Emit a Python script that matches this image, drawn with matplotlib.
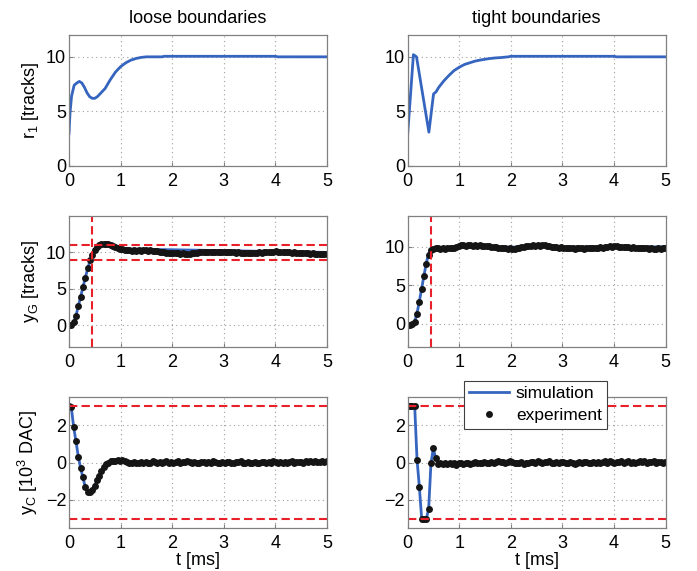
import numpy as np
import matplotlib
matplotlib.use('Agg')
import matplotlib.pyplot as plt

plt.rcParams['font.family'] = ['Liberation Sans', 'DejaVu Sans']
plt.rcParams['mathtext.default'] = 'regular'
plt.rcParams['font.size'] = 13

# ---- reference trajectory r1 (simulation) ----
t_r1_loose = [0, 0.02, 0.05, 0.1, 0.15, 0.2, 0.25, 0.3, 0.35, 0.4, 0.45, 0.5, 0.55, 0.6,
              0.7, 0.8, 0.9, 1.0, 1.1, 1.2, 1.3, 1.4, 1.5, 1.8, 1.85, 4.0, 4.05, 5.0]
r1_loose = [3.0, 4.9, 6.4, 7.4, 7.6, 7.75, 7.6, 7.2, 6.7, 6.35, 6.2, 6.2, 6.35, 6.6,
            7.1, 7.9, 8.6, 9.1, 9.45, 9.7, 9.85, 9.95, 10.0, 10.0, 10.05, 10.05, 10.0, 10.0]

t_r1_tight = [0, 0.11, 0.17, 0.41, 0.5, 0.55, 0.6, 0.7, 0.8, 0.9, 1.0, 1.1, 1.2, 1.3,
              1.4, 1.5, 1.6, 1.7, 1.8, 1.95, 2.0, 4.0, 4.05, 5.0]
r1_tight = [3.0, 10.2, 10.0, 3.1, 6.6, 6.8, 7.2, 7.8, 8.3, 8.75, 9.05, 9.3, 9.45, 9.6,
            9.7, 9.78, 9.85, 9.9, 9.93, 10.0, 10.05, 10.05, 10.0, 10.0]

# ---- experiment samples (Ts = 0.045 ms) ----
Ts = 0.045
yG_loose_exp = [
    0.0, 0.0, 0.4, 1.3, 2.6, 3.9, 5.2, 6.5, 7.8, 8.9,
    9.7, 10.3, 10.7, 11.0, 11.15, 11.2, 11.2, 11.1, 11.0, 10.85,
    10.7, 10.6, 10.5, 10.4, 10.35, 10.3, 10.3, 10.25, 10.3, 10.25,
    10.3, 10.25, 10.3, 10.3, 10.25, 10.3, 10.2, 10.2, 10.15, 10.1,
    10.0, 10.0, 9.95, 9.9, 9.9, 9.85, 9.9, 9.85, 9.8, 9.85,
    9.8, 9.75, 9.8, 9.9, 9.95, 9.95, 10.0, 10.0, 10.05, 10.0,
    10.1, 10.05, 10.1, 10.1, 10.05, 10.1, 10.1, 10.05, 10.0, 10.05,
    10.0, 10.0, 9.95, 10.0, 9.95, 9.9, 9.95, 9.9, 9.85, 9.95,
    9.9, 9.95, 10.0, 9.95, 10.0, 10.0, 10.05, 10.1, 10.1, 10.15,
    10.1, 10.1, 10.0, 10.05, 10.1, 10.0, 9.95, 10.0, 9.95, 9.9,
    9.95, 9.9, 9.85, 9.9, 9.8, 9.85, 9.8, 9.8, 9.75, 9.8, 9.8, 9.75]
yG_tight_exp = [
    -0.1, -0.1, 0.0, 0.2, 1.3, 2.8, 4.5, 6.2, 7.8, 9.0,
    9.6, 9.75, 9.8, 9.8, 9.75, 9.8, 9.7, 9.8, 9.85, 9.9,
    9.9, 10.0, 10.1, 10.2, 10.2, 10.15, 10.2, 10.2, 10.15, 10.2,
    10.15, 10.2, 10.1, 10.1, 10.05, 10.1, 10.0, 10.0, 9.95, 9.9,
    9.85, 9.8, 9.8, 9.75, 9.8, 9.7, 9.75, 9.8, 9.85, 9.95,
    10.0, 10.05, 10.1, 10.1, 10.2, 10.15, 10.2, 10.1, 10.2, 10.25,
    10.15, 10.1, 10.0, 9.95, 10.0, 9.9, 9.95, 9.9, 9.85, 9.85,
    9.8, 9.85, 9.75, 9.8, 9.8, 9.85, 9.75, 9.8, 9.85, 9.85,
    9.9, 9.9, 9.85, 9.95, 9.9, 10.0, 10.0, 10.05, 9.95, 10.1,
    10.05, 10.0, 10.0, 9.95, 10.0, 9.95, 9.9, 9.95, 9.9, 9.9,
    9.85, 9.9, 9.85, 9.8, 9.75, 9.8, 9.75, 9.75, 9.8, 9.75, 9.8, 9.8]
yC_loose_exp = [
    3.0, 2.95, 1.9, 1.13, 0.32, -0.3, -0.8, -1.3, -1.55, -1.6,
    -1.45, -1.25, -0.95, -0.7, -0.45, -0.25, -0.1, 0.0, 0.08, 0.1,
    0.08, 0.12, 0.1, 0.12, 0.08, 0.05, 0.0, -0.02, 0.02, 0.0,
    -0.05, 0.02, -0.03, 0.05, -0.05, 0.0, 0.08, 0.03, -0.02, 0.05,
    0.0, 0.05, 0.08, -0.03, 0.04, 0.0, 0.02, 0.06, 0.0, 0.03,
    0.05, 0.08, 0.02, -0.02, 0.03, 0.0, -0.04, 0.03, 0.05, -0.02,
    0.02, 0.0, 0.06, 0.02, -0.05, -0.02, 0.03, 0.0, 0.02, 0.05,
    0.0, -0.03, 0.05, 0.02, 0.08, 0.0, -0.02, 0.04, -0.05, 0.0,
    0.03, -0.02, 0.0, 0.05, 0.02, -0.03, 0.04, 0.0, 0.06, 0.02,
    -0.02, 0.03, 0.0, 0.05, -0.02, 0.02, 0.06, 0.0, 0.03, 0.02,
    0.05, 0.0, 0.08, 0.02, 0.06, 0.03, 0.1, 0.05, 0.02, 0.08, 0.05, 0.1]
yC_tight_exp = [
    3.0, 3.0, 3.0, 3.0, 0.15, -1.3, -3.0, -3.0, -3.0, -2.5,
    -0.05, 0.75, 0.25, -0.1, -0.05, -0.1, 0.0, -0.08, -0.02, -0.1,
    -0.05, -0.12, -0.05, 0.0, -0.08, -0.03, 0.0, -0.06, -0.02, 0.03,
    -0.03, 0.0, -0.05, 0.02, 0.0, -0.04, 0.03, 0.0, 0.05, 0.08,
    0.05, 0.02, 0.0, 0.05, 0.1, 0.05, -0.02, 0.0, -0.05, 0.02,
    -0.06, 0.0, -0.03, 0.02, 0.05, 0.0, 0.08, 0.03, -0.02, 0.05,
    0.02, 0.06, 0.0, -0.03, 0.04, 0.0, 0.05, 0.02, -0.04, 0.0,
    0.05, -0.02, -0.08, 0.0, 0.03, -0.05, 0.02, 0.04, 0.0, -0.03,
    0.03, 0.0, 0.05, -0.02, 0.02, 0.06, 0.0, 0.08, 0.03, 0.0,
    0.05, 0.02, 0.08, 0.0, 0.03, 0.06, -0.02, 0.05, 0.0, 0.03,
    0.06, 0.02, 0.08, 0.0, 0.05, 0.02, 0.06, -0.02, 0.03, 0.05, 0.0, 0.02]
t_exp = np.arange(len(yG_loose_exp)) * Ts

# ---- simulation (first 20 samples, then settled value at 5 ms) ----
t_sim = list(t_exp[:20]) + [5.0]
yG_loose_sim = [0.0, 0.0, 0.3, 1.3, 2.6, 3.9, 5.2, 6.5, 7.7, 8.8,
                9.7, 10.3, 10.7, 11.0, 11.1, 11.1, 11.0, 10.9, 10.7, 10.5, 10.0]
yG_tight_sim = [0.0, 0.0, 0.1, 0.3, 1.4, 2.9, 4.6, 6.3, 7.9, 9.1,
                9.7, 9.9, 9.9, 9.9, 9.9, 9.9, 9.9, 9.9, 9.9, 9.95, 10.0]
yC_loose_sim = [3.0, 2.95, 1.9, 1.13, 0.32, -0.3, -0.8, -1.3, -1.55, -1.6,
                -1.45, -1.25, -0.95, -0.7, -0.45, -0.25, -0.1, 0.0, 0.05, 0.05, 0.0]
yC_tight_sim = [3.0, 3.0, 3.0, 3.0, 0.15, -1.3, -3.0, -3.0, -3.0, -2.5,
                -0.05, 0.75, 0.25, -0.05, 0.0, 0.0, 0.0, 0.0, 0.0, 0.0, 0.0]

# boundaries
t_settle = 0.45
yG_band = [9.0, 11.0]
yC_limits = [-3.0, 3.0]

blue = '#3565be'
red = '#e8202a'
dot = '#151515'
dash = (0, (4, 2))

fig = plt.figure(figsize=(6.97, 5.71), dpi=100)
lefts = [0.099, 0.585]
bottoms = [0.7093, 0.3923, 0.0753]
w, h = 0.370, 0.2294
axs = [[fig.add_axes([l, b, w, h]) for l in lefts] for b in bottoms]


def style(ax, ylim, yticks):
    ax.set_xlim(0, 5)
    ax.set_ylim(*ylim)
    ax.set_xticks([0, 1, 2, 3, 4, 5])
    ax.set_yticks(yticks)
    ax.grid(True, linestyle=(0, (1, 3)), color='#a0a0a0', linewidth=0.8)
    for s in ax.spines.values():
        s.set_color('#808080')
        s.set_linewidth(0.9)
    ax.tick_params(direction='in', length=3, color='#808080', labelsize=13)
    ax.tick_params(axis='x', pad=5)
    ax.tick_params(axis='y', pad=2)


# row 1: r1
axs[0][0].plot(t_r1_loose, r1_loose, color=blue, lw=2)
axs[0][1].plot(t_r1_tight, r1_tight, color=blue, lw=2)
for ax in axs[0]:
    style(ax, (0, 12), [0, 5, 10])
axs[0][0].set_title('loose boundaries', fontsize=13, pad=9)
axs[0][1].set_title('tight boundaries', fontsize=13, pad=9)
axs[0][0].set_ylabel('r$_1$ [tracks]', fontsize=13)

# row 2: yG
ax = axs[1][0]
ax.plot(t_sim, yG_loose_sim, color=blue, lw=2)
ax.plot(t_exp, yG_loose_exp, 'o', color=dot, ms=5, mew=0)
ax.axvline(t_settle, color=red, lw=1.5, ls=dash)
for v in yG_band:
    ax.axhline(v, color=red, lw=1.5, ls=dash)
style(ax, (-3, 15), [0, 5, 10])
ax.set_ylabel('y$_G$ [tracks]', fontsize=13)

ax = axs[1][1]
ax.plot(t_sim, yG_tight_sim, color=blue, lw=2)
ax.plot(t_exp, yG_tight_exp, 'o', color=dot, ms=5, mew=0)
ax.axvline(t_settle, color=red, lw=1.5, ls=dash)
style(ax, (-3, 14), [0, 5, 10])

# row 3: yC
ax = axs[2][0]
ax.plot(t_sim, yC_loose_sim, color=blue, lw=2)
ax.plot(t_exp, yC_loose_exp, 'o', color=dot, ms=5, mew=0)
for v in yC_limits:
    ax.axhline(v, color=red, lw=1.5, ls=dash)
style(ax, (-3.5, 3.5), [-2, 0, 2])
ax.set_ylabel('y$_C$ [10$^3$ DAC]', fontsize=13)
ax.set_xlabel('t [ms]', fontsize=13, labelpad=0)

ax = axs[2][1]
ax.plot(t_sim, yC_tight_sim, color=blue, lw=2, label='simulation')
ax.plot(t_exp, yC_tight_exp, 'o', color=dot, ms=5, mew=0, label='experiment')
for v in yC_limits:
    ax.axhline(v, color=red, lw=1.5, ls=dash)
style(ax, (-3.5, 3.5), [-2, 0, 2])
ax.set_xlabel('t [ms]', fontsize=13, labelpad=0)
leg = ax.legend(loc='upper left', bbox_to_anchor=(0.217, 1.122), borderaxespad=0,
                fancybox=False, framealpha=1, edgecolor='#404040', fontsize=12.5,
                handlelength=2.3, handletextpad=0.4, borderpad=0.3, labelspacing=0.4)
leg.get_frame().set_linewidth(0.8)
leg.set_zorder(10)

fig.savefig('out.png', dpi=100)
